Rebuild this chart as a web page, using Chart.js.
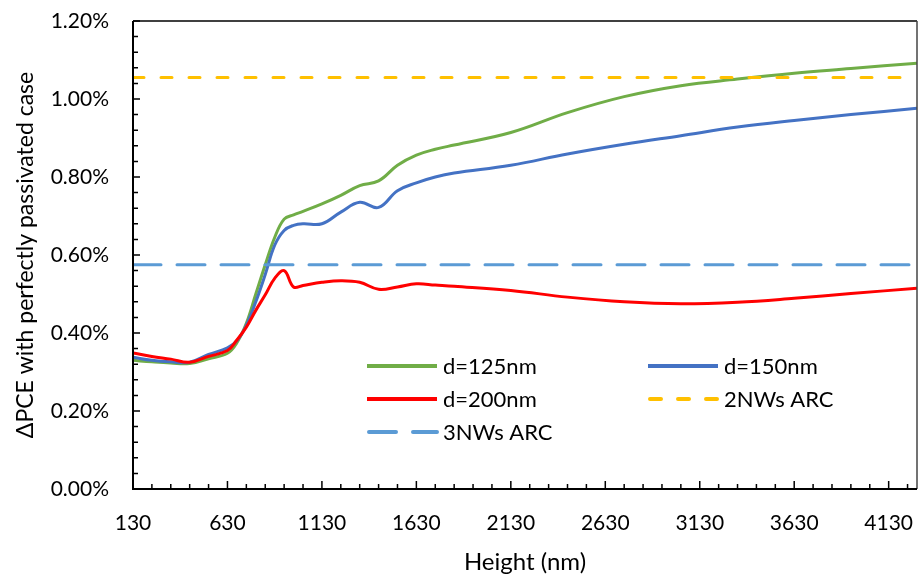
<!DOCTYPE html>
<html>
<head>
<meta charset="utf-8">
<script src="https://cdn.jsdelivr.net/npm/chart.js@4.4.0/dist/chart.umd.min.js"></script>
<style>
  html, body { margin: 0; padding: 0; background: #fff; }
</style>
</head>
<body>
<canvas id="grafico" width="918" height="574"></canvas>
<script>
// Datos (altura en nm, ΔPCE en %)
var alturas = [130, 230, 330, 430, 530, 630, 680, 730, 780, 830, 880, 930, 980, 1030, 1130, 1230, 1330, 1430, 1530, 1630, 1730, 1830, 2130, 2430, 2730, 3030, 3330, 3630, 3930, 4280];
var d125 = [0.330, 0.326, 0.323, 0.322, 0.334, 0.348, 0.375, 0.425, 0.500, 0.575, 0.645, 0.692, 0.703, 0.712, 0.731, 0.753, 0.778, 0.790, 0.830, 0.856, 0.871, 0.882, 0.914, 0.965, 1.006, 1.034, 1.051, 1.066, 1.078, 1.092];
var d150 = [0.338, 0.330, 0.326, 0.325, 0.345, 0.362, 0.380, 0.420, 0.480, 0.550, 0.625, 0.663, 0.676, 0.680, 0.680, 0.710, 0.735, 0.722, 0.765, 0.785, 0.800, 0.810, 0.830, 0.859, 0.884, 0.906, 0.928, 0.945, 0.960, 0.976];
var d200 = [0.349, 0.340, 0.333, 0.325, 0.340, 0.355, 0.382, 0.415, 0.458, 0.498, 0.540, 0.560, 0.518, 0.522, 0.530, 0.534, 0.530, 0.512, 0.518, 0.526, 0.523, 0.520, 0.509, 0.492, 0.480, 0.475, 0.479, 0.489, 0.501, 0.515];
var arc2NWs = 1.055;
var arc3NWs = 0.575;
var ticksX = [130, 630, 1130, 1630, 2130, 2630, 3130, 3630, 4130];
var ticksY = [0, 0.2, 0.4, 0.6, 0.8, 1.0, 1.2];

var xMin = 130, xMax = 4280;

function puntos(valores) {
    return alturas.map(function(h, i) { return { x: h, y: valores[i] }; });
}

function sinPadding(s) {
    s.paddingLeft = 0; s.paddingRight = 0; s.paddingTop = 0; s.paddingBottom = 0;
}

Chart.defaults.font.family = 'Lato';
Chart.defaults.font.size = 21;
Chart.defaults.color = '#000';

// Marco, marcas interiores y leyenda
var marco = {
    id: 'marco',
    afterDraw: function(chart) {
        var c = chart.ctx, a = chart.chartArea;
        var sx = chart.scales.x, sy = chart.scales.y;
        c.save();
        c.strokeStyle = '#000';
        c.lineWidth = 1.5;
        c.beginPath();
        c.moveTo(a.left, a.top); c.lineTo(a.right, a.top);
        c.stroke();
        c.strokeStyle = '#444';
        c.beginPath();
        c.moveTo(a.right, a.top); c.lineTo(a.right, a.bottom);
        c.stroke();
        c.strokeStyle = '#000';
        c.lineWidth = 2;
        c.beginPath();
        c.moveTo(a.left, a.top); c.lineTo(a.left, a.bottom); c.lineTo(a.right, a.bottom);
        c.stroke();
        c.lineWidth = 1.5;
        c.beginPath();
        for (var h = xMin; h <= xMax; h += 100) {
            var px = sx.getPixelForValue(h);
            var largo = ((h - 130) % 500 === 0) ? 8 : 5;
            c.moveTo(px, a.bottom); c.lineTo(px, a.bottom - largo);
        }
        for (var k = 0; k <= 30; k++) {
            var py = sy.getPixelForValue(k * 0.04);
            var l2 = (k % 5 === 0) ? 7 : 5;
            c.moveTo(a.left, py); c.lineTo(a.left + l2, py);
        }
        c.stroke();

        // leyenda
        var filas = [
            [0, 0, 0], [1, 0, 1],
            [2, 1, 0], [3, 1, 1],
            [4, 2, 0]
        ];
        var guiones = [[], [], [], [11, 17], [27, 17]];
        c.font = '22px Lato';
        c.textBaseline = 'middle';
        c.fillStyle = '#000';
        filas.forEach(function(f) {
            var ds = chart.data.datasets[f[0]];
            var y = a.top + 345 + f[1] * 33;
            var x0 = a.left + (f[2] ? 515 : 234);
            c.strokeStyle = ds.borderColor;
            c.lineWidth = 4;
            c.lineCap = guiones[f[0]].length ? 'round' : 'butt';
            c.setLineDash(guiones[f[0]]);
            c.beginPath();
            c.moveTo(x0 + (guiones[f[0]].length ? 2 : 0), y);
            c.lineTo(x0 + 70, y);
            c.stroke();
            c.setLineDash([]);
            c.fillText(ds.label, x0 + 76, y + 1);
        });
        c.restore();
    }
};

var ctx = document.getElementById('grafico').getContext('2d');
var grafico = new Chart(ctx, {
    type: 'line',
    data: {
        datasets: [
            { label: 'd=125nm', data: puntos(d125), borderColor: '#70AD47', borderWidth: 3, order: 5 },
            { label: 'd=150nm', data: puntos(d150), borderColor: '#4472C4', borderWidth: 3, order: 4 },
            { label: 'd=200nm', data: puntos(d200), borderColor: '#FF0000', borderWidth: 3, order: 3 },
            { label: '2NWs ARC', data: [{ x: xMin, y: arc2NWs }, { x: xMax, y: arc2NWs }], borderColor: '#FFC000', borderWidth: 3, borderDash: [11, 17], borderCapStyle: 'round', tension: 0, order: 2 },
            { label: '3NWs ARC', data: [{ x: xMin, y: arc3NWs }, { x: 4240, y: arc3NWs }], borderColor: '#5B9BD5', borderWidth: 3, borderDash: [28, 16], borderCapStyle: 'round', tension: 0, order: 1 }
        ]
    },
    options: {
        responsive: false,
        animation: false,
        devicePixelRatio: 1,
        layout: { padding: { top: 21, right: 1, left: 0, bottom: 0 } },
        elements: {
            point: { radius: 0 },
            line: { tension: 0.4, fill: false }
        },
        plugins: {
            legend: { display: false },
            tooltip: { enabled: false }
        },
        scales: {
            x: {
                type: 'linear',
                min: xMin,
                max: xMax,
                grid: { display: false, drawTicks: false },
                border: { display: false },
                afterBuildTicks: function(s) { s.ticks = ticksX.map(function(v) { return { value: v }; }); },
                afterFit: function(s) { s.height = 85; sinPadding(s); },
                ticks: { padding: 22, callback: function(v) { return String(v); } },
                title: { display: true, text: 'Height (nm)', font: { size: 24 }, padding: { top: 4, bottom: -3 } }
            },
            y: {
                min: 0,
                max: 1.2,
                grid: { display: false, drawTicks: false },
                border: { display: false },
                afterBuildTicks: function(s) { s.ticks = ticksY.map(function(v) { return { value: v }; }); },
                afterFit: function(s) { s.width = 133; sinPadding(s); },
                ticks: {
                    padding: 24,
                    callback: function(v) { return v.toFixed(2) + '%'; }
                },
                title: { display: true, text: 'ΔPCE with perfectly passivated case', font: { size: 23 }, padding: { top: 12, bottom: 0 } }
            }
        }
    },
    plugins: [marco]
});
</script>
</body>
</html>
